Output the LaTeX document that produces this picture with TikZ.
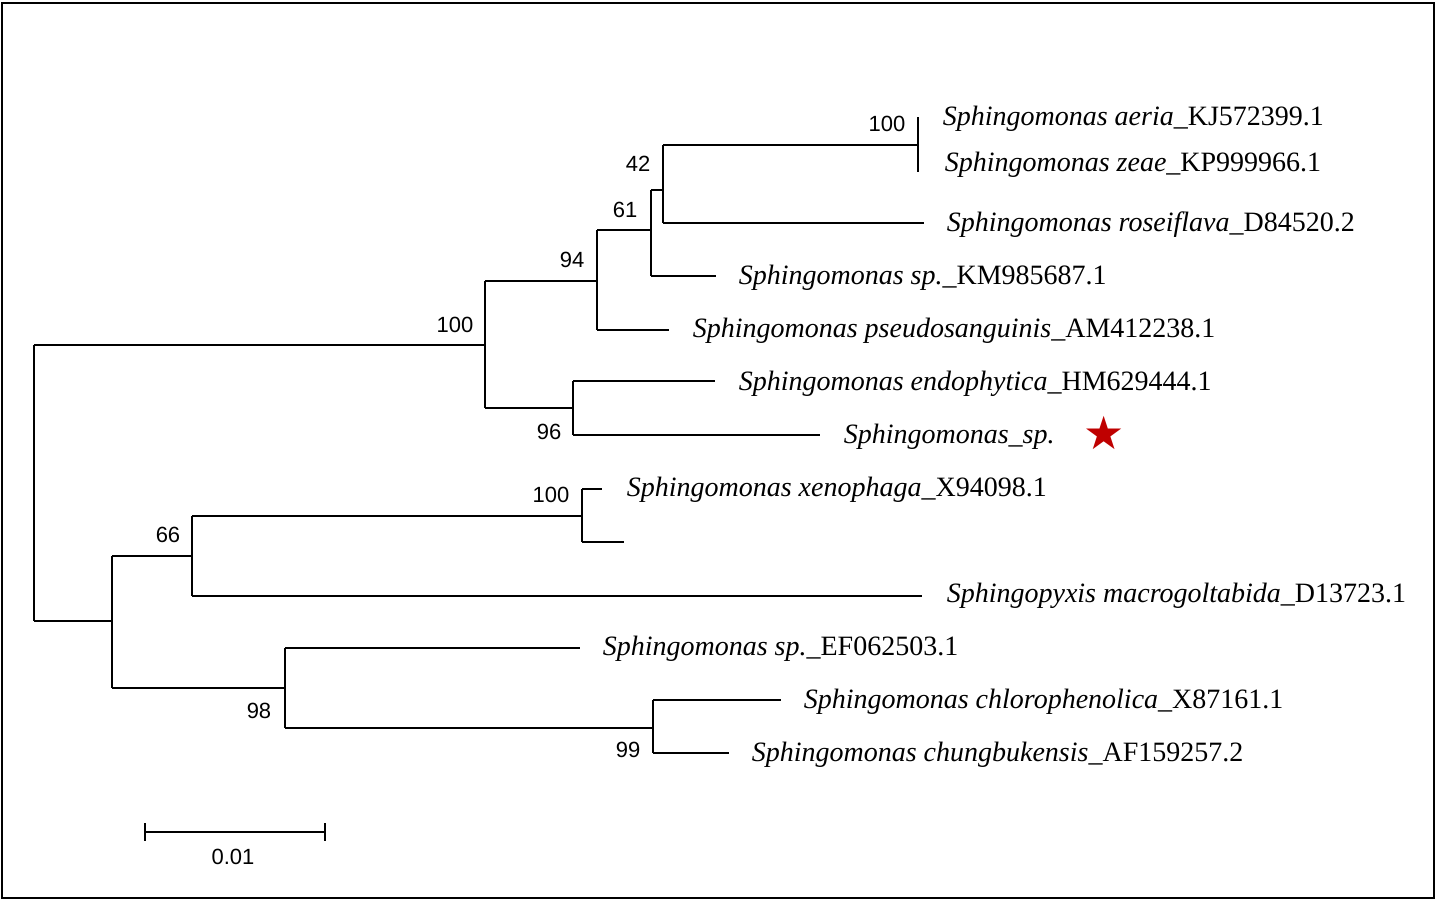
\documentclass[tikz,border=0pt]{standalone}
\usepackage{fontspec}
\setmainfont{Liberation Serif}
\newfontfamily\numfont{Liberation Sans}
\newfontfamily\symfont{DejaVu Sans}
\begin{document}
\begin{tikzpicture}[x=1pt,y=-1pt,line width=1.6pt,
  leaf/.style={anchor=west,inner sep=0pt,font=\fontsize{28}{28}\selectfont},
  bs/.style={inner sep=0pt,font=\numfont\fontsize{22}{22}\selectfont}]
\useasboundingbox (0,0) rectangle (1449,906);
\draw[line width=2.5pt] (2,3) rectangle (1434,898);
\draw (34,345) -- (34,621);
\draw (34,345) -- (485,345);
\draw (485,281) -- (485,408);
\draw (485,281) -- (597,281);
\draw (597,230) -- (597,330);
\draw (597,230) -- (651,230);
\draw (651,190) -- (651,276);
\draw (651,190) -- (663,190);
\draw (663,145) -- (663,223);
\draw (663,145) -- (918,145);
\draw (918,117) -- (918,172);
\draw (663,223) -- (924,223);
\draw (651,276) -- (716,276);
\draw (597,330) -- (669,330);
\draw (485,408) -- (573,408);
\draw (573,381) -- (573,435);
\draw (573,381) -- (715,381);
\draw (573,435) -- (820,435);
\draw (34,621) -- (112,621);
\draw (112,556) -- (112,688);
\draw (112,556) -- (192,556);
\draw (192,516) -- (192,596);
\draw (192,516) -- (582,516);
\draw (582,489) -- (582,542);
\draw (582,489) -- (602,489);
\draw (582,542) -- (624,542);
\draw (192,596) -- (922,596);
\draw (112,688) -- (285,688);
\draw (285,648) -- (285,728);
\draw (285,648) -- (580,648);
\draw (285,728) -- (653,728);
\draw (653,700) -- (653,753);
\draw (653,700) -- (781,700);
\draw (653,753) -- (729,753);
% scale bar
\draw (145,832) -- (325,832);
\draw (145,823) -- (145,841);
\draw (325,823) -- (325,841);
\node[bs] (sc) at (233,857) {0.01};
% bootstrap
\node[bs] at (887,124) {100};
\node[bs] at (638,164) {42};
\node[bs] at (625,210) {61};
\node[bs] at (572,260) {94};
\node[bs] at (455,325) {100};
\node[bs] at (549,432) {96};
\node[bs] at (551,495) {100};
\node[bs] at (168,535) {66};
\node[bs] at (259,711) {98};
\node[bs] at (628,750) {99};
% leaves
\node[leaf] at (942,119) {\textit{Sphingomonas aeria}\_KJ572399.1};
\node[leaf] at (944,165) {\textit{Sphingomonas zeae}\_KP999966.1};
\node[leaf] at (946,225) {\textit{Sphingomonas roseiflava}\_D84520.2};
\node[leaf] at (738,278) {\textit{Sphingomonas sp.}\_KM985687.1};
\node[leaf] at (692,331) {\textit{Sphingomonas pseudosanguinis}\_AM412238.1};
\node[leaf] at (738,384) {\textit{Sphingomonas endophytica}\_HM629444.1};
\node[leaf] at (843,437) {\textit{Sphingomonas\_sp.}};
\node[text=red!75!black,font=\symfont\fontsize{46}{46}\selectfont,inner sep=0pt] at (1104,433) {★};
\node[leaf] at (626,490) {\textit{Sphingomonas xenophaga}\_X94098.1};
\node[leaf] at (946,596) {\textit{Sphingopyxis macrogoltabida}\_D13723.1};
\node[leaf] at (602,649) {\textit{Sphingomonas sp.}\_EF062503.1};
\node[leaf] at (803,702) {\textit{Sphingomonas chlorophenolica}\_X87161.1};
\node[leaf] at (751,755) {\textit{Sphingomonas chungbukensis}\_AF159257.2};
\end{tikzpicture}
\end{document}
